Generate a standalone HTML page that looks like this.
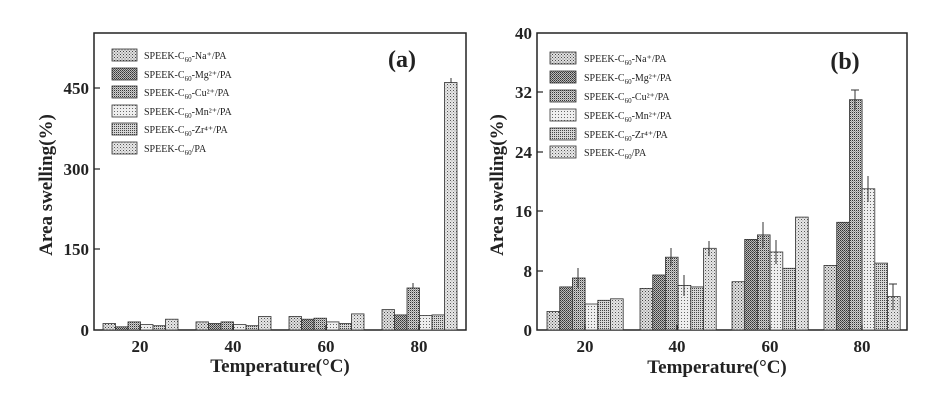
<!DOCTYPE html>
<html><head><meta charset="utf-8"><style>
body{margin:0;background:#fff;}
svg{display:block;}
text{font-family:"Liberation Serif",serif;fill:#222;}
.t{font-weight:bold;font-size:17px;}
.l{font-size:10px;}
rect.b{stroke:#333;stroke-width:0.8;}
.s0{fill:url(#p0)}.s1{fill:url(#p1)}.s2{fill:url(#p2)}.s3{fill:url(#p3)}.s4{fill:url(#p4)}.s5{fill:url(#p5)}
</style></head><body>
<svg width="928" height="401" viewBox="0 0 928 401">
<defs>
<pattern id="p0" width="3" height="3" patternUnits="userSpaceOnUse"><rect width="3" height="3" fill="#e0e0e0"/><rect width="1" height="1" fill="#444"/><rect x="1.5" y="1.5" width="1" height="1" fill="#666"/></pattern>
<pattern id="p1" width="2" height="2" patternUnits="userSpaceOnUse"><rect width="2" height="2" fill="#bbb"/><rect width="1" height="1" fill="#333"/><rect x="1" y="1" width="1" height="1" fill="#555"/></pattern>
<pattern id="p2" width="2" height="2" patternUnits="userSpaceOnUse"><rect width="2" height="2" fill="#d0d0d0"/><rect width="1" height="1" fill="#333"/><rect x="1" y="1" width="0.7" height="0.7" fill="#666"/></pattern>
<pattern id="p3" width="3" height="3" patternUnits="userSpaceOnUse"><rect width="3" height="3" fill="#eee"/><rect width="1" height="1" fill="#666"/></pattern>
<pattern id="p4" width="2" height="2" patternUnits="userSpaceOnUse"><rect width="2" height="2" fill="#d6d6d6"/><rect width="1" height="1" fill="#444"/></pattern>
<pattern id="p5" width="3" height="3" patternUnits="userSpaceOnUse"><rect width="3" height="3" fill="#e6e6e6"/><rect width="1" height="1" fill="#555"/><rect x="1.5" y="1.5" width="0.8" height="0.8" fill="#777"/></pattern>
</defs>
<!-- Panel a -->
<rect x="94" y="33" width="372" height="297" fill="none" stroke="#222" stroke-width="1.5"/>
<g>
<rect class="b s0" x="103" y="323.5" width="12.5" height="6.5"/><rect class="b s1" x="115.5" y="326.8" width="12.5" height="3.2"/><rect class="b s2" x="128" y="321.9" width="12.5" height="8.1"/><rect class="b s3" x="140.5" y="324.6" width="12.5" height="5.4"/><rect class="b s4" x="153" y="325.7" width="12.5" height="4.3"/><rect class="b s5" x="165.5" y="319.2" width="12.5" height="10.8"/>
<rect class="b s0" x="196" y="321.9" width="12.5" height="8.1"/><rect class="b s1" x="208.5" y="323.5" width="12.5" height="6.5"/><rect class="b s2" x="221" y="321.9" width="12.5" height="8.1"/><rect class="b s3" x="233.5" y="324.6" width="12.5" height="5.4"/><rect class="b s4" x="246" y="325.7" width="12.5" height="4.3"/><rect class="b s5" x="258.5" y="316.5" width="12.5" height="13.5"/>
<rect class="b s0" x="289" y="316.5" width="12.5" height="13.5"/><rect class="b s1" x="301.5" y="319.2" width="12.5" height="10.8"/><rect class="b s2" x="314" y="318.2" width="12.5" height="11.8"/><rect class="b s3" x="326.5" y="321.9" width="12.5" height="8.1"/><rect class="b s4" x="339" y="323.5" width="12.5" height="6.5"/><rect class="b s5" x="351.5" y="313.9" width="12.5" height="16.1"/>
<rect class="b s0" x="382" y="309.6" width="12.5" height="20.4"/><rect class="b s1" x="394.5" y="314.9" width="12.5" height="15.1"/><rect class="b s2" x="407" y="288" width="12.5" height="42"/><rect class="b s3" x="419.5" y="315.5" width="12.5" height="14.5"/><rect class="b s4" x="432" y="314.9" width="12.5" height="15.1"/><rect class="b s5" x="444.5" y="82.5" width="12.5" height="247.5"/>
<line x1="413" y1="283" x2="413" y2="288" stroke="#333"/><line x1="451" y1="78" x2="451" y2="83" stroke="#333"/>
</g>
<g stroke="#222" stroke-width="1.2">
<line x1="94" y1="88" x2="100" y2="88"/><line x1="94" y1="169" x2="100" y2="169"/><line x1="94" y1="249" x2="100" y2="249"/>
<line x1="140" y1="330" x2="140" y2="325"/><line x1="233" y1="330" x2="233" y2="325"/><line x1="326" y1="330" x2="326" y2="325"/><line x1="419" y1="330" x2="419" y2="325"/>
</g>
<g class="t" text-anchor="end">
<text x="89" y="336">0</text><text x="89" y="255">150</text><text x="89" y="175">300</text><text x="89" y="94">450</text>
</g>
<g class="t" text-anchor="middle">
<text x="140" y="352">20</text><text x="233" y="352">40</text><text x="326" y="352">60</text><text x="419" y="352">80</text>
<text x="280" y="372" font-size="19">Temperature(°C)</text>
<text transform="translate(52,185) rotate(-90)" font-size="19">Area swelling(%)</text>
<text x="402" y="67" font-size="24">(a)</text>
</g>
<g>
<rect class="b s0" x="112" y="49" width="25" height="12"/><rect class="b s1" x="112" y="68" width="25" height="12"/><rect class="b s2" x="112" y="86" width="25" height="12"/><rect class="b s3" x="112" y="105" width="25" height="12"/><rect class="b s4" x="112" y="123" width="25" height="12"/><rect class="b s5" x="112" y="142" width="25" height="12"/>
</g>
<g class="l">
<text x="144" y="59">SPEEK-C<tspan font-size="7" dy="3">60</tspan><tspan dy="-3">-Na⁺/PA</tspan></text>
<text x="144" y="78">SPEEK-C<tspan font-size="7" dy="3">60</tspan><tspan dy="-3">-Mg²⁺/PA</tspan></text>
<text x="144" y="96">SPEEK-C<tspan font-size="7" dy="3">60</tspan><tspan dy="-3">-Cu²⁺/PA</tspan></text>
<text x="144" y="115">SPEEK-C<tspan font-size="7" dy="3">60</tspan><tspan dy="-3">-Mn²⁺/PA</tspan></text>
<text x="144" y="133">SPEEK-C<tspan font-size="7" dy="3">60</tspan><tspan dy="-3">-Zr⁴⁺/PA</tspan></text>
<text x="144" y="152">SPEEK-C<tspan font-size="7" dy="3">60</tspan><tspan dy="-3">/PA</tspan></text>
</g>

<!-- Panel b -->
<rect x="537" y="33" width="370" height="297" fill="none" stroke="#222" stroke-width="1.5"/>
<g>
<rect class="b s0" x="547" y="311.4" width="12.7" height="18.6"/><rect class="b s1" x="559.7" y="286.9" width="12.7" height="43.1"/><rect class="b s2" x="572.4" y="278" width="12.7" height="52"/><rect class="b s3" x="585.1" y="304" width="12.7" height="26"/><rect class="b s4" x="597.8" y="300.3" width="12.7" height="29.7"/><rect class="b s5" x="610.5" y="298.8" width="12.7" height="31.2"/>
<rect class="b s0" x="640" y="288.4" width="12.7" height="41.6"/><rect class="b s1" x="652.7" y="275" width="12.7" height="55"/><rect class="b s2" x="665.4" y="257.2" width="12.7" height="72.8"/><rect class="b s3" x="678.1" y="285.4" width="12.7" height="44.6"/><rect class="b s4" x="690.8" y="286.9" width="12.7" height="43.1"/><rect class="b s5" x="703.5" y="248.3" width="12.7" height="81.7"/>
<rect class="b s0" x="732" y="281.7" width="12.7" height="48.3"/><rect class="b s1" x="744.7" y="239.4" width="12.7" height="90.6"/><rect class="b s2" x="757.4" y="234.9" width="12.7" height="95.1"/><rect class="b s3" x="770.1" y="252" width="12.7" height="78"/><rect class="b s4" x="782.8" y="268.3" width="12.7" height="61.7"/><rect class="b s5" x="795.5" y="217.1" width="12.7" height="112.9"/>
<rect class="b s0" x="824" y="265.4" width="12.7" height="64.6"/><rect class="b s1" x="836.7" y="222.3" width="12.7" height="107.7"/><rect class="b s2" x="849.4" y="99.7" width="12.7" height="230.3"/><rect class="b s3" x="862.1" y="188.8" width="12.7" height="141.2"/><rect class="b s4" x="874.8" y="263.1" width="12.7" height="66.9"/><rect class="b s5" x="887.5" y="296.6" width="12.7" height="33.4"/>
</g>
<g stroke="#333" stroke-width="1">
<line x1="578" y1="268" x2="578" y2="288"/><line x1="671" y1="248" x2="671" y2="266"/><line x1="684" y1="275" x2="684" y2="296"/><line x1="709" y1="241" x2="709" y2="256"/><line x1="763" y1="222" x2="763" y2="248"/><line x1="776" y1="240" x2="776" y2="264"/><line x1="855" y1="90" x2="855" y2="110"/><line x1="868" y1="176" x2="868" y2="202"/><line x1="893" y1="284" x2="893" y2="310"/><line x1="889" y1="284" x2="897" y2="284"/><line x1="851" y1="90" x2="859" y2="90"/>
</g>
<g stroke="#222" stroke-width="1.2">
<line x1="537" y1="271" x2="543" y2="271"/><line x1="537" y1="211" x2="543" y2="211"/><line x1="537" y1="152" x2="543" y2="152"/><line x1="537" y1="92" x2="543" y2="92"/>
<line x1="585" y1="330" x2="585" y2="325"/><line x1="677" y1="330" x2="677" y2="325"/><line x1="770" y1="330" x2="770" y2="325"/><line x1="862" y1="330" x2="862" y2="325"/>
</g>
<g class="t" text-anchor="end">
<text x="532" y="336">0</text><text x="532" y="277">8</text><text x="532" y="217">16</text><text x="532" y="158">24</text><text x="532" y="98">32</text><text x="532" y="39">40</text>
</g>
<g class="t" text-anchor="middle">
<text x="585" y="352">20</text><text x="677" y="352">40</text><text x="770" y="352">60</text><text x="862" y="352">80</text>
<text x="717" y="373" font-size="19">Temperature(°C)</text>
<text transform="translate(503,185) rotate(-90)" font-size="19">Area swelling(%)</text>
<text x="845" y="69" font-size="24">(b)</text>
</g>
<g>
<rect class="b s0" x="550" y="52" width="26" height="12"/><rect class="b s1" x="550" y="71" width="26" height="12"/><rect class="b s2" x="550" y="90" width="26" height="12"/><rect class="b s3" x="550" y="109" width="26" height="12"/><rect class="b s4" x="550" y="128" width="26" height="12"/><rect class="b s5" x="550" y="146" width="26" height="12"/>
</g>
<g class="l">
<text x="584" y="62">SPEEK-C<tspan font-size="7" dy="3">60</tspan><tspan dy="-3">-Na⁺/PA</tspan></text>
<text x="584" y="81">SPEEK-C<tspan font-size="7" dy="3">60</tspan><tspan dy="-3">-Mg²⁺/PA</tspan></text>
<text x="584" y="100">SPEEK-C<tspan font-size="7" dy="3">60</tspan><tspan dy="-3">-Cu²⁺/PA</tspan></text>
<text x="584" y="119">SPEEK-C<tspan font-size="7" dy="3">60</tspan><tspan dy="-3">-Mn²⁺/PA</tspan></text>
<text x="584" y="138">SPEEK-C<tspan font-size="7" dy="3">60</tspan><tspan dy="-3">-Zr⁴⁺/PA</tspan></text>
<text x="584" y="156">SPEEK-C<tspan font-size="7" dy="3">60</tspan><tspan dy="-3">/PA</tspan></text>
</g>
</svg>
</body></html>
